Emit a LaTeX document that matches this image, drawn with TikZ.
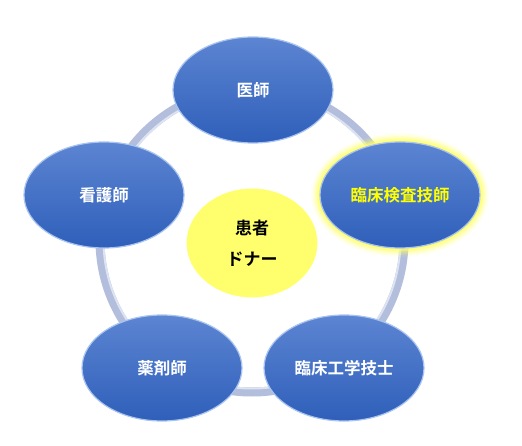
\documentclass[tikz,border=0pt]{standalone}
\usepackage{fontspec}
\newfontfamily\jp{Noto Sans CJK JP Bold}
\usetikzlibrary{shapes.geometric,shadows}
\definecolor{ringc}{HTML}{B2BEDB}
\definecolor{ringl}{HTML}{DCE3F2}
\definecolor{btop}{HTML}{5C85D2}
\definecolor{bbot}{HTML}{2F5FBA}
\definecolor{rim}{HTML}{A9C4F0}
\definecolor{glow}{HTML}{FFFF66}
\definecolor{cyel}{HTML}{FFFF6E}
\definecolor{ytext}{HTML}{FFFF00}
\tikzset{
  role/.style={ellipse, minimum width=160pt, minimum height=106pt, inner sep=0pt,
    top color=btop, bottom color=bbot, draw=rim, line width=1.2pt,
    font=\jp\fontsize{16.5}{20}\selectfont, text=white},
  center/.style={ellipse, minimum width=132pt, minimum height=110pt, inner sep=0pt,
    fill=cyel, draw=white, line width=1pt, align=center,
    font=\jp\fontsize{17}{31}\selectfont, text=black},
}
\begin{document}
\begin{tikzpicture}[x=1pt,y=-1pt]
\useasboundingbox[fill=white] (0,0) rectangle (522,446);
% ring
\draw[ringc, line width=9pt] (252,240) circle[radius=152];
\draw[ringl, line width=2pt] (252,240) circle[radius=148.5];
% glow around 臨床検査技師
\foreach \s/\o in {18/0.08,15/0.12,12/0.18,9/0.28,6/0.45,3/0.7}{
  \fill[glow, opacity=\o] (400,195) ellipse[x radius=80+\s/2, y radius=53+\s/2];
}
\node[role] (ishi) at (253,90) {医師};
\node[role, text=ytext] (kensa) at (400,195) {臨床検査技師};
\node[role] (kango) at (104,195) {看護師};
\node[role] (yaku) at (162,368) {薬剤師};
\node[role] (kogaku) at (344,368) {臨床工学技士};
\node[center] (kanja) at (252,243) {患者\\ドナー};
\end{tikzpicture}
\end{document}
